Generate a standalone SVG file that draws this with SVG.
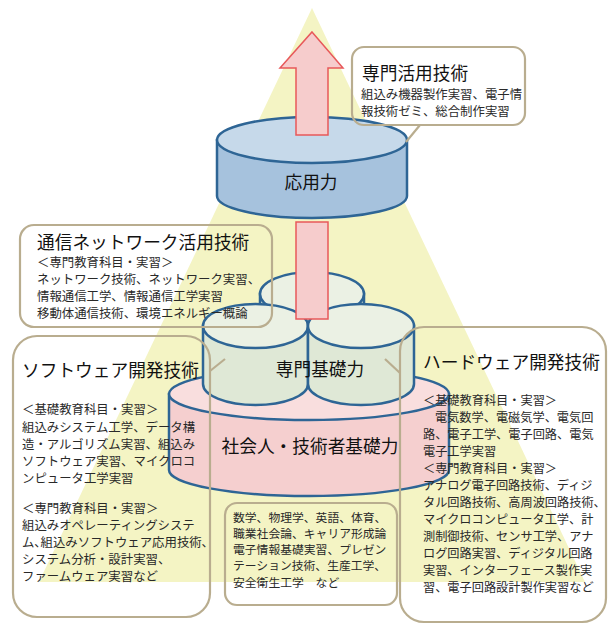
<svg xmlns="http://www.w3.org/2000/svg" width="609" height="626" viewBox="0 0 609 626">
<style>
.cyl{stroke:#2e6595;stroke-width:2.5}
.box{fill:none;stroke:#b9ad8f;stroke-width:2.2}
.tail{fill:none;stroke:#b9ad8f;stroke-width:2.2}
text{font-family:"Noto Sans CJK JP","Noto Sans CJK SC",sans-serif}
.ttl{font-size:17.7px;fill:#111}
.bd{font-size:12.4px;fill:#292929}
.bdr{font-size:12.2px;fill:#292929}
.bds{font-size:11.8px;fill:#292929}
.cl{font-size:17.7px;fill:#111;text-anchor:middle}
</style>
<rect width="609" height="626" fill="#ffffff"/>
<polygon points="312,8 39,582 585,582" fill="#f4f4c4"/>

<g id="cyl-social">
<path class="cyl" d="M169,394 L169,470 A140,26 0 0 0 449,470 L449,394 Z" fill="#f5cfcf"/>
<ellipse class="cyl" cx="309" cy="394" rx="140" ry="26" fill="#f9dede"/>
<text class="cl" x="310" y="453">社会人・技術者基礎力</text>
</g>

<g id="cyl-senmon">
<path class="cyl" d="M260,294 L260,330 A52,22 0 0 0 364,330 L364,294 Z" fill="#dfe8d6"/>
<ellipse class="cyl" cx="312" cy="294" rx="52" ry="22" fill="#ebf1e4"/>
<path class="cyl" d="M203,326 L203,384 A52.5,21 0 0 0 308,384 L308,326 Z" fill="#dfe8d6"/>
<ellipse class="cyl" cx="255.5" cy="326" rx="52.5" ry="22" fill="#ebf1e4"/>
<path class="cyl" d="M308,326 L308,384 A53,21 0 0 0 414,384 L414,326 Z" fill="#dfe8d6"/>
<ellipse class="cyl" cx="361" cy="326" rx="53" ry="22" fill="#ebf1e4"/>
<text class="cl" x="320" y="376">専門基礎力</text>
</g>

<g id="cyl-ouyou">
<path class="cyl" d="M217,140 L217,196 A95,22 0 0 0 407,196 L407,140 Z" fill="#a6c2dd"/>
<ellipse class="cyl" cx="312" cy="140" rx="95" ry="23" fill="#c6d9ea"/>
<text class="cl" x="311" y="189">応用力</text>
</g>

<g id="arrow">
<polygon points="312,32 343,68 328,68 328,135 296,135 296,68 280,68" fill="#f6cccc" stroke="#e8585a" stroke-width="1.5"/>
<rect x="296" y="222" width="32" height="97" fill="#f6cccc" stroke="#e8585a" stroke-width="1.5"/>
</g>

<g id="connectors">
<line class="tail" x1="420" y1="125" x2="406" y2="142"/>
<line class="tail" x1="210" y1="371" x2="225" y2="359"/>
<line class="tail" x1="400" y1="373" x2="385" y2="359"/>
</g>

<g id="box-katsuyou">
<rect class="box" x="352" y="47" width="173" height="78" rx="12"/>
<text class="ttl" x="362" y="80">専門活用技術</text>
<text class="bd" x="361" y="99">組込み機器製作実習、電子情</text>
<text class="bd" x="361" y="116">報技術ゼミ、総合制作実習</text>
</g>

<g id="box-tsushin">
<rect class="box" x="20" y="225" width="252" height="102" rx="14"/>
<text class="ttl" x="37" y="249">通信ネットワーク活用技術</text>
<text class="bd" x="37" y="267">＜専門教育科目・実習＞</text>
<text class="bd" x="37" y="284">ネットワーク技術、ネットワーク実習、</text>
<text class="bd" x="37" y="301">情報通信工学、情報通信工学実習</text>
<text class="bd" x="37" y="318">移動体通信技術、環境エネルギー概論</text>
</g>

<g id="box-software">
<rect class="box" x="13" y="336" width="197" height="281" rx="24"/>
<text class="ttl" x="22" y="377">ソフトウェア開発技術</text>
<text class="bd" x="22" y="414">＜基礎教育科目・実習＞</text>
<text class="bd" x="22" y="432">組込みシステム工学、データ構</text>
<text class="bd" x="22" y="449">造・アルゴリズム実習、組込み</text>
<text class="bd" x="22" y="466">ソフトウェア実習、マイクロコ</text>
<text class="bd" x="22" y="483">ンピュータ工学実習</text>
<text class="bd" x="22" y="513">＜専門教育科目・実習＞</text>
<text class="bd" x="22" y="530">組込みオペレーティングシステ</text>
<text class="bd" x="22" y="547">ム､組込みソフトウェア応用技術､</text>
<text class="bd" x="22" y="564">システム分析・設計実習、</text>
<text class="bd" x="22" y="581">ファームウェア実習など</text>
</g>

<g id="box-hardware">
<rect class="box" x="400" y="327" width="206" height="295" rx="24"/>
<text class="ttl" x="423" y="369">ハードウェア開発技術</text>
<text class="bdr" x="423" y="405">＜基礎教育科目・実習＞</text>
<text class="bdr" x="435" y="422">電気数学、電磁気学、電気回</text>
<text class="bdr" x="423" y="439">路、電子工学、電子回路、電気</text>
<text class="bdr" x="423" y="456">電子工学実習</text>
<text class="bdr" x="423" y="473">＜専門教育科目・実習＞</text>
<text class="bdr" x="423" y="490">アナログ電子回路技術、ディジ</text>
<text class="bdr" x="423" y="507">タル回路技術、高周波回路技術、</text>
<text class="bdr" x="423" y="524">マイクロコンピュータ工学、計</text>
<text class="bdr" x="423" y="541">測制御技術、センサ工学、アナ</text>
<text class="bdr" x="423" y="558">ログ回路実習、ディジタル回路</text>
<text class="bdr" x="423" y="575">実習、インターフェース製作実</text>
<text class="bdr" x="423" y="592">習、電子回路設計製作実習など</text>
</g>

<g id="box-kiso">
<rect class="box" x="225" y="503" width="172" height="102" rx="12"/>
<text class="bds" x="233" y="522">数学、物理学、英語、体育、</text>
<text class="bds" x="233" y="538">職業社会論、キャリア形成論</text>
<text class="bds" x="233" y="554">電子情報基礎実習、プレゼン</text>
<text class="bds" x="233" y="570">テーション技術、生産工学、</text>
<text class="bds" x="233" y="587">安全衛生工学　など</text>
</g>
</svg>
